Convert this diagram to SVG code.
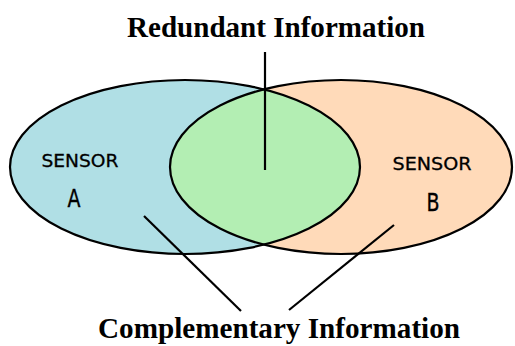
<svg xmlns="http://www.w3.org/2000/svg" width="515" height="346" viewBox="0 0 515 346">
  <style>
    .outline { fill: none; stroke: #000; stroke-width: 2.2; }
    .title { font-family: "Liberation Serif", "Times New Roman", serif; font-weight: bold; font-size: 30px; fill: #000; text-anchor: middle; }
    .sensor { font-family: "DejaVu Sans", "Liberation Sans", sans-serif; font-size: 18px; fill: #000; stroke: #000; stroke-width: 0.3; text-anchor: middle; }
    .letter { font-family: "DejaVu Sans", "Liberation Sans", sans-serif; font-size: 19px; fill: #000; stroke: #000; stroke-width: 0.3; text-anchor: middle; }
    .link { stroke: #000; stroke-width: 2.2; fill: none; }
  </style>
  <defs>
    <clipPath id="clipB">
      <ellipse cx="341" cy="167" rx="171" ry="87"/>
    </clipPath>
  </defs>
  <rect width="515" height="346" fill="#fff"/>

  <!-- Sensor A region -->
  <g id="sensorA">
    <ellipse cx="185" cy="167" rx="175" ry="87" fill="#B0DFE5"/>
  </g>

  <!-- Sensor B region -->
  <g id="sensorB">
    <ellipse cx="341" cy="167" rx="171" ry="87" fill="#FFDAB9"/>
  </g>

  <!-- Overlap of the two sensors -->
  <g id="overlap">
    <ellipse cx="185" cy="167" rx="175" ry="87" fill="#B3EEB3" clip-path="url(#clipB)"/>
  </g>

  <!-- Outlines drawn over the fills -->
  <g id="outlines">
    <ellipse class="outline" cx="185" cy="167" rx="175" ry="87"/>
    <ellipse class="outline" cx="341" cy="167" rx="171" ry="87"/>
  </g>

  <g id="labelA">
    <text class="sensor" x="80" y="167" textLength="77" lengthAdjust="spacingAndGlyphs">SENSOR</text>
    <text class="letter" x="74" y="207" transform="translate(0,-62) scale(1,1.3)">A</text>
  </g>

  <g id="labelB">
    <text class="sensor" x="432" y="170" textLength="79" lengthAdjust="spacingAndGlyphs">SENSOR</text>
    <text class="letter" x="433" y="211" transform="translate(0,-63) scale(1,1.3)">B</text>
  </g>

  <!-- Pointer lines -->
  <g id="connectors">
    <line class="link" x1="265" y1="52" x2="265" y2="170"/>
    <line class="link" x1="144" y1="216" x2="241" y2="311"/>
    <line class="link" x1="394" y1="225" x2="289" y2="310"/>
  </g>

  <g id="redundant">
    <text class="title" x="276" y="37" textLength="298" lengthAdjust="spacingAndGlyphs">Redundant Information</text>
  </g>

  <g id="complementary">
    <text class="title" x="279" y="338" textLength="362" lengthAdjust="spacingAndGlyphs">Complementary Information</text>
  </g>
</svg>
